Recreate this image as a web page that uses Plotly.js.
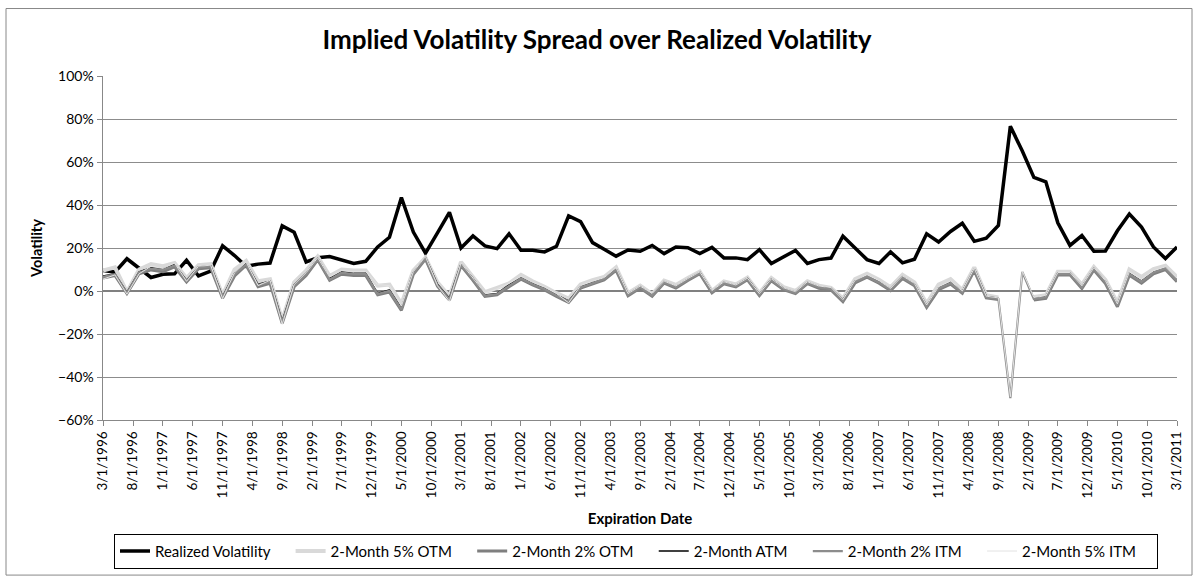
<!DOCTYPE html>
<html>
<head>
<meta charset="utf-8">
<script src="https://cdn.plot.ly/plotly-3.0.1.min.js"></script>
<style>html,body{margin:0;padding:0;background:#fff;}#chart{width:1194px;height:581px;}</style>
</head>
<body>
<div id="chart"></div>
<script>
const dates = ["1996-03-01","1996-05-01","1996-07-01","1996-09-01","1996-11-01","1997-01-01","1997-03-01","1997-05-01","1997-07-01","1997-09-01",
"1997-11-01","1998-01-01","1998-03-01","1998-05-01","1998-07-01","1998-09-01","1998-11-01","1999-01-01","1999-03-01","1999-05-01",
"1999-07-01","1999-09-01","1999-11-01","2000-01-01","2000-03-01","2000-05-01","2000-07-01","2000-09-01","2000-11-01","2001-01-01",
"2001-03-01","2001-05-01","2001-07-01","2001-09-01","2001-11-01","2002-01-01","2002-03-01","2002-05-01","2002-07-01","2002-09-01",
"2002-11-01","2003-01-01","2003-03-01","2003-05-01","2003-07-01","2003-09-01","2003-11-01","2004-01-01","2004-03-01","2004-05-01",
"2004-07-01","2004-09-01","2004-11-01","2005-01-01","2005-03-01","2005-05-01","2005-07-01","2005-09-01","2005-11-01","2006-01-01",
"2006-03-01","2006-05-01","2006-07-01","2006-09-01","2006-11-01","2007-01-01","2007-03-01","2007-05-01","2007-07-01","2007-09-01",
"2007-11-01","2008-01-01","2008-03-01","2008-05-01","2008-07-01","2008-09-01","2008-11-01","2009-01-01","2009-03-01","2009-05-01",
"2009-07-01","2009-09-01","2009-11-01","2010-01-01","2010-03-01","2010-05-01","2010-07-01","2010-09-01","2010-11-01","2011-01-01",
"2011-03-01"];

const realized = [9.5, 8.8, 15.0, 10.5, 6.3, 7.8, 8.0, 14.3, 7.0, 9.3,
 21.0, 16.5, 11.5, 12.5, 13.0, 30.3, 27.3, 13.5, 15.5, 16.0,
 14.3, 12.8, 13.8, 20.5, 25.0, 43.5, 27.4, 17.6, 27.0, 36.6,
 20.0, 25.6, 21.0, 19.7, 26.6, 18.9, 18.9, 18.2, 20.8, 34.9,
 32.3, 22.5, 19.4, 16.2, 19.1, 18.5, 21.2, 17.4, 20.5, 20.1,
 17.4, 20.3, 15.4, 15.4, 14.6, 19.2, 12.8, 15.8, 18.9, 12.8,
 14.6, 15.3, 25.5, 20.0, 14.6, 12.8, 18.2, 13.1, 14.8, 26.6,
 22.8, 27.7, 31.5, 23.1, 24.6, 30.5, 76.6, 65.1, 52.8, 50.8,
 31.7, 21.2, 25.8, 18.5, 18.6, 28.0, 35.8, 29.7, 20.5, 15.1,
 20.5];

const otm5 = [9.5, 11.0, -0.5, 10.0, 12.5, 11.5, 13.0, 6.0, 12.0, 12.5,
 -2.0, 10.0, 14.0, 4.5, 5.5, -13.5, 4.0, 9.5, 16.0, 7.0,
 10.0, 9.5, 9.5, 2.5, 3.0, -6.0, 9.5, 15.5, 4.0, -2.5,
 13.5, 6.5, -0.5, 1.5, 3.5, 7.5, 4.5, 2.0, -1.0, -3.5,
 3.0, 5.0, 6.5, 11.0, -1.0, 2.5, -1.5, 4.8, 2.8, 6.0,
 9.0, 0.0, 4.5, 3.0, 6.2, -1.0, 6.0, 1.8, 0.0, 4.5,
 2.5, 1.5, -3.5, 5.5, 8.0, 5.2, 1.8, 7.5, 4.0, -5.8,
 3.0, 5.5, 0.5, 11.0, -2.0, -3.0, null, null, -2.8, -2.0,
 9.0, 9.0, 3.0, 11.2, 5.2, -5.5, 10.0, 6.5, 10.2, 11.8,
 6.5];

const otm2 = [6.0, 7.2, -1.2, 8.0, 9.8, 9.0, 11.2, 4.2, 10.3, 10.8,
 -3.3, 7.0, 12.0, 2.0, 3.6, -15.0, 2.0, 7.2, 14.5, 5.0,
 7.8, 7.2, 7.2, -1.8, -0.5, -9.0, 7.8, 14.8, 2.2, -4.2,
 11.8, 5.0, -2.5, -1.8, 2.0, 5.5, 2.8, 0.5, -2.5, -5.3,
 1.3, 3.3, 5.2, 9.6, -2.2, 1.4, -2.5, 3.7, 1.4, 4.9,
 8.0, -0.8, 3.4, 1.9, 5.2, -2.1, 4.8, 0.6, -1.2, 3.4,
 1.3, 0.5, -5.0, 3.8, 6.4, 3.6, 0.2, 5.8, 2.4, -7.6,
 0.6, 3.2, -1.0, 9.5, -3.2, -4.0, null, null, -4.2, -3.4,
 7.5, 7.5, 1.2, 9.8, 3.5, -7.3, 7.3, 3.6, 8.0, 10.0,
 4.3];

const atm = [7.0, 8.0, -0.8, 8.9, 10.8, 10.2, 12.3, 5.0, 11.2, 11.7,
 -2.6, 8.2, 12.8, 3.1, 4.6, -14.2, 2.8, 8.2, 15.1, 5.8,
 8.9, 8.2, 8.2, -1.1, 0.5, -8.0, 8.6, 15.4, 3.1, -3.4,
 12.5, 5.8, -1.8, -1.1, 2.8, 6.2, 3.5, 1.2, -1.8, -4.6,
 2.0, 4.0, 5.8, 10.2, -1.5, 2.0, -1.8, 4.3, 2.0, 5.5,
 8.6, -0.3, 4.0, 2.5, 5.8, -1.5, 5.4, 1.2, -0.6, 4.0,
 2.0, 1.2, -4.2, 4.6, 7.1, 4.3, 0.9, 6.6, 3.1, -6.8,
 1.5, 4.0, -0.3, 10.2, -2.6, -3.4, null, null, -3.4, -2.6,
 8.2, 8.2, 2.0, 10.5, 4.3, -6.5, 8.2, 4.6, 8.9, 10.8,
 5.1];

const itm2 = [6.6, 7.8, -1.0, 8.6, 10.4, 9.8, 11.9, 4.7, 10.9, 11.4,
 -2.9, 7.8, 12.5, 2.7, 4.2, -14.6, 2.4, 7.8, 14.8, 5.4,
 8.5, 7.8, 7.8, -1.4, 0.1, -8.5, 8.2, 15.1, 2.7, -3.8,
 12.2, 5.4, -2.1, -1.4, 2.4, 5.9, 3.1, 0.9, -2.1, -4.9,
 1.7, 3.7, 5.5, 9.9, -1.8, 1.7, -2.1, 4.0, 1.7, 5.2,
 8.3, -0.5, 3.7, 2.2, 5.5, -1.8, 5.1, 0.9, -0.9, 3.7,
 1.7, 0.9, -4.5, 4.3, 6.8, 4.0, 0.6, 6.3, 2.8, -7.1,
 1.2, 3.7, -0.6, 9.9, -2.9, -3.7, -49.8, 8.9, -3.7, -2.9,
 7.9, 7.9, 1.7, 10.2, 4.0, -6.8, 7.9, 4.3, 8.6, 10.5,
 4.8];

const itm5 = [5.5, 7.5, -1.5, 8.0, 11.5, 10.5, 13.0, 4.5, 11.5, 12.0,
 -3.5, 8.5, 13.5, 2.5, 5.0, -15.5, 3.0, 8.5, 15.5, 6.5,
 9.5, 9.0, 9.0, 3.0, 2.5, -7.0, 9.0, 16.0, 2.5, -4.8,
 13.0, 6.0, -1.0, 1.0, 3.5, 6.8, 4.0, 1.8, -1.2, -5.5,
 2.5, 4.5, 6.2, 10.8, -1.2, 2.3, -1.2, 4.6, 2.4, 5.8,
 8.9, 0.2, 4.3, 2.8, 6.0, -1.2, 5.7, 1.5, -0.3, 4.3,
 2.3, 1.6, -4.0, 5.0, 7.5, 4.8, 1.2, 7.0, 3.5, -6.5,
 2.0, 4.6, 0.0, 10.6, -2.4, -3.2, -49.2, 9.2, -3.0, -2.2,
 8.6, 8.6, 2.4, 10.9, 4.8, -6.0, 9.0, 5.5, 9.4, 11.2,
 5.8];

const tickDates = ["1996-03-01","1996-08-01","1997-01-01","1997-06-01","1997-11-01","1998-04-01","1998-09-01","1999-02-01","1999-07-01","1999-12-01",
"2000-05-01","2000-10-01","2001-03-01","2001-08-01","2002-01-01","2002-06-01","2002-11-01","2003-04-01","2003-09-01","2004-02-01",
"2004-07-01","2004-12-01","2005-05-01","2005-10-01","2006-03-01","2006-08-01","2007-01-01","2007-06-01","2007-11-01","2008-04-01",
"2008-09-01","2009-02-01","2009-07-01","2009-12-01","2010-05-01","2010-10-01","2011-03-01"];
const tickLabels = ["3/1/1996","8/1/1996","1/1/1997","6/1/1997","11/1/1997","4/1/1998","9/1/1998","2/1/1999","7/1/1999","12/1/1999",
"5/1/2000","10/1/2000","3/1/2001","8/1/2001","1/1/2002","6/1/2002","11/1/2002","4/1/2003","9/1/2003","2/1/2004",
"7/1/2004","12/1/2004","5/1/2005","10/1/2005","3/1/2006","8/1/2006","1/1/2007","6/1/2007","11/1/2007","4/1/2008",
"9/1/2008","2/1/2009","7/1/2009","12/1/2009","5/1/2010","10/1/2010","3/1/2011"];

const seriesNames = ["Realized Volatility", "2-Month 5% OTM", "2-Month 2% OTM", "2-Month ATM", "2-Month 2% ITM", "2-Month 5% ITM"];

const FONT = "Lato, 'Open Sans', sans-serif";
const PAD = "\u00a0\u00a0\u00a0\u00a0";

function tr(name, y, color, width) {
  return {type: 'scatter', mode: 'lines', name: name + PAD, x: dates, y: y,
          line: {color: color, width: width}, connectgaps: false, hoverinfo: 'skip'};
}

const traces = [
  tr(seriesNames[0], realized, '#000000', 3.5),
  tr(seriesNames[1], otm5, '#d9d9d9', 4),
  tr(seriesNames[2], otm2, '#7f7f7f', 3),
  tr(seriesNames[3], atm, '#000000', 1.5),
  tr(seriesNames[4], itm2, '#8c8c8c', 2.25),
  tr(seriesNames[5], itm5, '#e3e3e3', 1)
];

const L = 103, R = 1177, T = 76, B = 422.7, W = 1194, H = 581;
const pw = R - L, ph = B - T;

const layout = {
  width: W, height: H,
  margin: {l: L, r: W - R, t: T, b: H - B, pad: 0},
  paper_bgcolor: '#ffffff', plot_bgcolor: '#ffffff',
  font: {family: FONT, color: '#000', size: 13},
  title: {text: 'Implied Volatility Spread over Realized Volatility',
          font: {family: FONT, size: 26, color: '#000', weight: 'bold'},
          x: 0.5, xanchor: 'center', y: 1 - 40 / H, yanchor: 'middle'},
  showlegend: true,
  legend: {orientation: 'h', x: (636 - L) / pw, xanchor: 'center', y: (B - 555) / ph, yanchor: 'middle',
           bordercolor: '#000', borderwidth: 1, bgcolor: '#fff',
           font: {family: FONT, size: 15, color: '#000'}, itemwidth: 30, traceorder: 'normal'},
  xaxis: {type: 'date', range: ['1996-03-01', '2011-03-01'],
          tickmode: 'array', tickvals: tickDates, ticktext: tickLabels, tickangle: -90,
          tickfont: {family: FONT, size: 13.5, color: '#000'},
          ticks: 'outside', ticklen: 5, tickcolor: '#888', showgrid: false,
          showline: true, linecolor: '#888', linewidth: 1, zeroline: false,
          title: {text: 'Expiration Date', font: {family: FONT, size: 15, color: '#000', weight: 'bold'}, standoff: 16},
          automargin: false, fixedrange: true},
  yaxis: {range: [-60, 100], tickmode: 'linear', tick0: -60, dtick: 20, ticksuffix: '%',
          tickfont: {family: FONT, size: 14, color: '#000'},
          ticks: 'outside', ticklen: 5, tickcolor: '#888',
          showgrid: true, gridcolor: '#8c8c8c', gridwidth: 1,
          zeroline: true, zerolinecolor: '#808080', zerolinewidth: 2,
          showline: true, linecolor: '#888', linewidth: 1.5,
          title: {text: 'Volatility', font: {family: FONT, size: 14.5, color: '#000', weight: 'bold'}, standoff: 12},
          automargin: false, fixedrange: true},
  shapes: [
    {type: 'rect', xref: 'paper', yref: 'paper',
     x0: (6 - L) / pw, x1: (1192 - L) / pw, y0: (B - 579) / ph, y1: (B - 8) / ph,
     line: {color: '#888', width: 1}, fillcolor: 'rgba(0,0,0,0)', layer: 'below'}
  ]
};

Plotly.newPlot('chart', traces, layout, {displayModeBar: false, staticPlot: true});
</script>
</body>
</html>
